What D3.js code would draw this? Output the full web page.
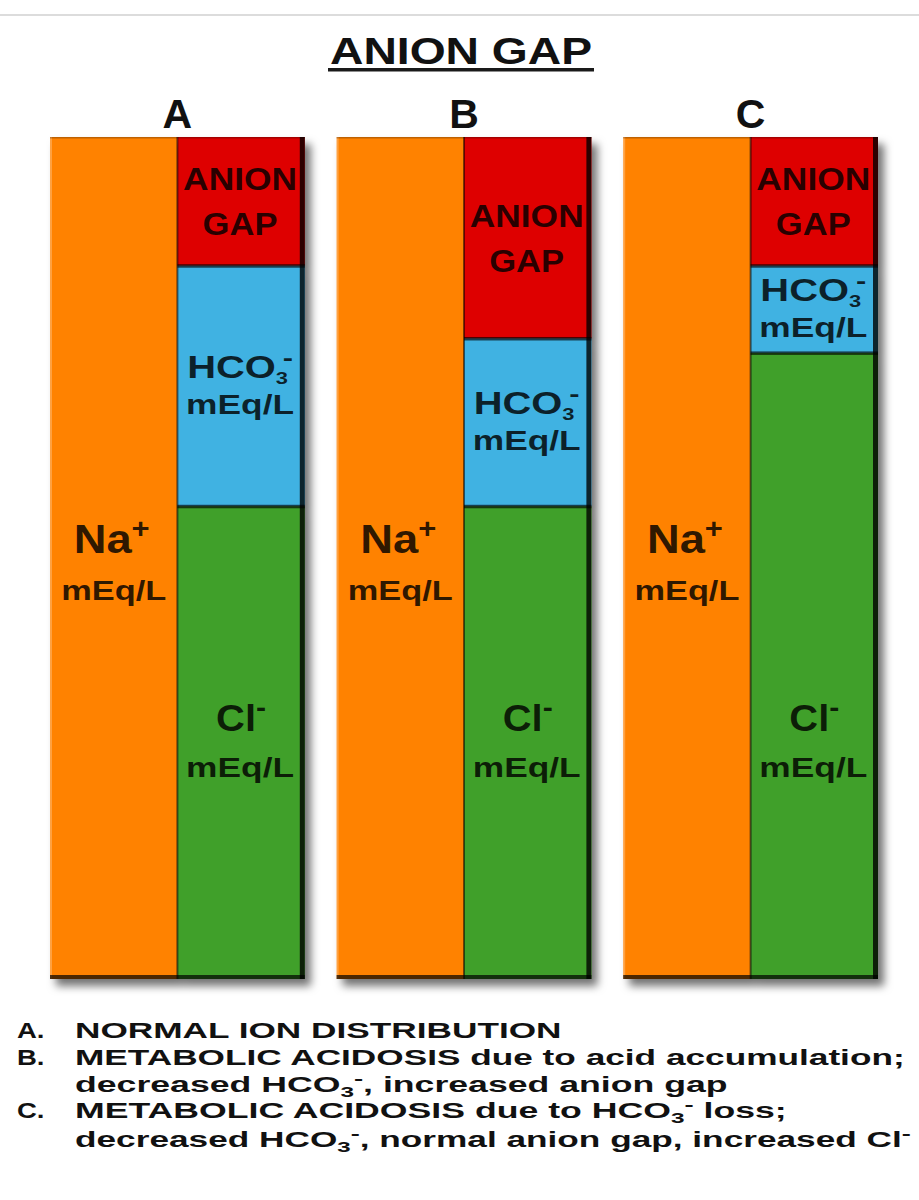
<!DOCTYPE html>
<html><head><meta charset="utf-8">
<script src="https://cdn.jsdelivr.net/npm/d3@7"></script>
<style>html,body{margin:0;padding:0;background:#fff;overflow:hidden}svg{display:block}</style>
</head><body><svg id="chart" width="919" height="1200"></svg>
<script>
// ---- data ----
const title = "ANION GAP";
const panels = ["A", "B", "C"];
const sodium = [140, 140, 140];
const anionGap = [21.4, 33.5, 21.4];
const bicarbonate = [40, 27.9, 14.5];
const chloride = [78.6, 78.6, 104.1];
const segmentKeys = ["gap", "hco3", "cl"];
const captionPrefixes = ["A.", "B.", "", "C.", ""];
const captionLines = [
  [["NORMAL ION DISTRIBUTION", ""]],
  [["METABOLIC ACIDOSIS due to acid accumulation;", ""]],
  [["decreased HCO", ""], ["3", "sub"], ["-", "sup"], [", increased anion gap", ""]],
  [["METABOLIC ACIDOSIS due to HCO", ""], ["3", "sub"], ["-", "sup"], [" loss;", ""]],
  [["decreased HCO", ""], ["3", "sub"], ["-", "sup"], [", normal anion gap, increased Cl", ""], ["-", "sup"]]
];

// ---- styles ----
const FONT = "'Liberation Sans', Arial, Helvetica, sans-serif";
const colors = { na: "#ff8200", gap: "#de0000", hco3: "#40b2e2", cl: "#41a02c" };

const svg = d3.select("#chart");
const defs = svg.append("defs");
const f = defs.append("filter").attr("id", "shadow").attr("x", "-10%").attr("y", "-5%").attr("width", "130%").attr("height", "115%");
f.append("feDropShadow").attr("dx", 6).attr("dy", 7).attr("stdDeviation", 4)
  .attr("flood-color", "#000").attr("flood-opacity", 0.55);

// top rule
svg.append("rect").attr("x", 0).attr("y", 14).attr("width", 919).attr("height", 2).attr("fill", "#dcdcdc");

// helper: text group scaled horizontally to a target width
function fitted(parent, x, baseline, anchor, build, targetW) {
  const g = parent.append("g").attr("transform", `translate(${x},${baseline})`);
  const t = g.append("text").attr("text-anchor", anchor).attr("font-family", FONT).attr("font-weight", "bold");
  build(t);
  if (targetW) {
    const w = t.node().getBBox().width;
    const sx = targetW / w;
    g.attr("transform", `translate(${x},${baseline}) scale(${sx},1)`);
  }
  return t;
}

// title
fitted(svg, 461, 64, "middle", t => t.attr("font-size", 37).attr("fill", "#111").text(title), 262);
svg.append("rect").attr("x", 328).attr("y", 68).attr("width", 266).attr("height", 3.5).attr("fill", "#1a1a1a");

// scales
const x = d3.scaleBand().domain(panels).range([50, 878]).paddingInner(0.111).paddingOuter(0);
const inner = d3.scaleBand().domain(["cation", "anion"]).range([0, x.bandwidth()]);
const y = d3.scaleLinear().domain([0, 140]).range([137, 979]);

const rows = panels.map((p, i) => ({ panel: p, na: sodium[i], gap: anionGap[i], hco3: bicarbonate[i], cl: chloride[i] }));
const stacked = d3.stack().keys(segmentKeys)(rows);

// panel letters
svg.selectAll("text.plabel").data(panels).join("text")
  .attr("class", "plabel")
  .attr("x", d => x(d) + x.bandwidth() / 2).attr("y", 128)
  .attr("text-anchor", "middle").attr("font-family", FONT).attr("font-weight", "bold")
  .attr("font-size", 41).attr("fill", "#111").text(d => d);

const pg = svg.selectAll("g.panel").data(rows).join("g").attr("class", "panel")
  .attr("transform", d => `translate(${x(d.panel)},0)`);

const body = pg.append("g").attr("filter", "url(#shadow)");
// sodium column
body.append("rect").attr("x", inner("cation")).attr("width", inner.bandwidth())
  .attr("y", y(0)).attr("height", d => y(d.na) - y(0)).attr("fill", colors.na);
// anion stack
segmentKeys.forEach((k, ki) => {
  body.append("rect").attr("x", inner("anion")).attr("width", inner.bandwidth())
    .attr("y", (d, i) => y(stacked[ki][i][0]))
    .attr("height", (d, i) => y(stacked[ki][i][1]) - y(stacked[ki][i][0]))
    .attr("fill", colors[k]);
});

// bevel details
const deco = pg.append("g");
deco.append("rect").attr("x", inner("cation")).attr("y", y(0)).attr("width", 2).attr("height", y(140) - y(0))
  .attr("fill", "#fff").attr("opacity", 0.25);
deco.append("rect").attr("x", 0).attr("y", y(0)).attr("width", x.bandwidth()).attr("height", 1.5)
  .attr("fill", "#000").attr("opacity", 0.25);
deco.append("rect").attr("x", inner("anion") - 1).attr("y", y(0)).attr("width", 2).attr("height", y(140) - y(0))
  .attr("fill", "#000").attr("opacity", 0.55);
[0, 1].forEach(ki => {
  deco.append("rect").attr("x", inner("anion")).attr("width", inner.bandwidth())
    .attr("y", (d, i) => y(stacked[ki][i][1]) - 1.5).attr("height", 3.5)
    .attr("fill", "#000").attr("opacity", 0.65);
});
deco.append("rect").attr("x", x.bandwidth() - 5).attr("y", y(0)).attr("width", 5).attr("height", y(140) - y(0))
  .attr("fill", "#000").attr("opacity", 0.8);
deco.append("rect").attr("x", 0).attr("y", y(140) - 4).attr("width", x.bandwidth()).attr("height", 4)
  .attr("fill", "#000").attr("opacity", 0.7);

// labels inside bars
const INK = "#000", INKOP = 0.82;
const cxNa = inner("cation") + inner.bandwidth() / 2;
const cxAn = inner("anion") + inner.bandwidth() / 2 - 1;
const minCl = d3.min(chloride);
pg.each(function (d, i) {
  const g = d3.select(this);
  const ink = t => t.attr("fill", INK).attr("fill-opacity", INKOP);
  // anion gap
  const cg = (y(stacked[0][i][0]) + y(stacked[0][i][1])) / 2;
  fitted(g, cxAn, cg - 11, "middle", t => ink(t).attr("font-size", 32).text("ANION"), 114);
  fitted(g, cxAn, cg + 34, "middle", t => ink(t).attr("font-size", 32).text("GAP"), 75);
  // bicarbonate
  const ch = (y(stacked[1][i][0]) + y(stacked[1][i][1])) / 2;
  fitted(g, cxAn, ch - 8, "middle", t => {
    ink(t).attr("font-size", 31);
    t.append("tspan").text("HCO");
    t.append("tspan").attr("font-size", 17).attr("dy", 6).text("3");
    t.append("tspan").attr("font-size", 24).attr("dx", -4).attr("dy", -18).text("-");
  }, 106);
  fitted(g, cxAn, ch + 28, "middle", t => ink(t).attr("font-size", 28).text("mEq/L"), 108);
  // sodium
  const cn = (y(0) + y(d.na)) / 2;
  fitted(g, cxNa - 2, cn - 5, "middle", t => {
    ink(t).attr("font-size", 41);
    t.append("tspan").text("Na");
    t.append("tspan").attr("font-size", 28).attr("dy", -15).text("+");
  }, 76);
  fitted(g, cxNa, cn + 42, "middle", t => ink(t).attr("font-size", 28).text("mEq/L"), 105);
  // chloride
  const cc = (y(140 - minCl) + y(140)) / 2;
  fitted(g, cxAn + 1, cc - 12, "middle", t => {
    ink(t).attr("font-size", 37);
    t.append("tspan").text("Cl");
    t.append("tspan").attr("font-size", 28).attr("dy", -14).text("-");
  }, 50);
  fitted(g, cxAn, cc + 34, "middle", t => ink(t).attr("font-size", 28).text("mEq/L"), 108);
});

// captions
const CAPFS = 22;
const capBase = [1038, 1065, 1092, 1118, 1147];
const capG = svg.append("g");
function buildLine(t, parts) {
  let off = 0;
  parts.forEach(([txt, kind]) => {
    const s = t.append("tspan").text(txt);
    if (kind === "sub") { s.attr("font-size", 15).attr("dy", 5 - off); off = 5; }
    else if (kind === "sup") { s.attr("font-size", 17).attr("dy", -8 - off); off = -8; }
    else { s.attr("dy", -off); off = 0; }
  });
}
// uniform horizontal factor from the longest fully visible line
const probe = capG.append("text").attr("font-family", FONT).attr("font-weight", "bold").attr("font-size", CAPFS)
  .text(captionLines[1][0][0]);
const capSx = 830 / probe.node().getBBox().width;
probe.remove();
captionLines.forEach((parts, i) => {
  const g = capG.append("g");
  const t = g.append("text").attr("font-family", FONT).attr("font-weight", "bold").attr("font-size", CAPFS).attr("fill", "#111");
  buildLine(t, parts);
  const natural = t.node().getBBox().width;
  let sx = capSx * (i < 2 ? 1 : 1.012);
  sx = Math.min(sx, (911 - 75) / natural);
  g.attr("transform", `translate(75,${capBase[i]}) scale(${sx},1)`);
  if (captionPrefixes[i]) {
    const pg2 = capG.append("g").attr("transform", `translate(17,${capBase[i]}) scale(1.25,1)`);
    pg2.append("text").attr("font-family", FONT).attr("font-weight", "bold").attr("font-size", CAPFS).attr("fill", "#111")
      .text(captionPrefixes[i]);
  }
});
</script>
</body></html>
